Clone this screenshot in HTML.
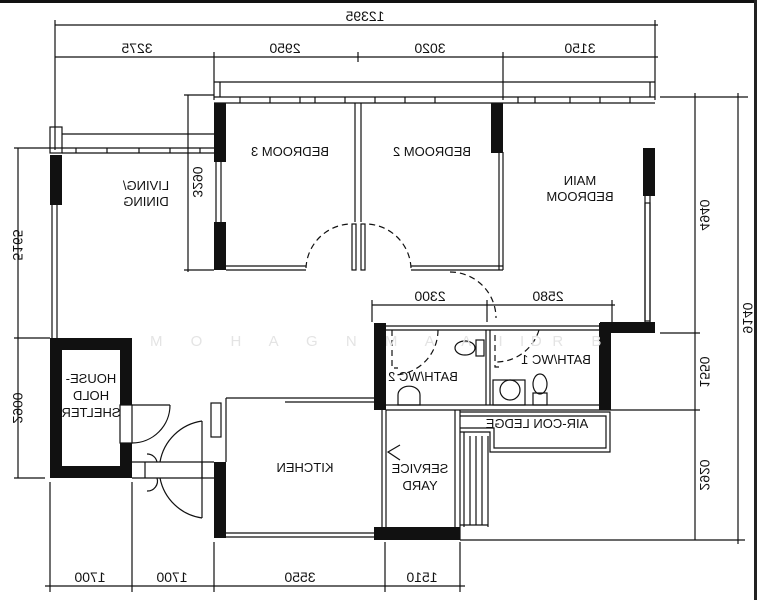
<!DOCTYPE html>
<html><head><meta charset="utf-8"><style>
html,body{margin:0;padding:0;background:#fff;}
svg{display:block;}
text{font-family:"Liberation Sans",sans-serif;fill:#111;}
</style></head><body>
<svg width="757" height="600" viewBox="0 0 757 600" xmlns="http://www.w3.org/2000/svg">
<rect x="0" y="0" width="757" height="3" fill="#111"/>
<rect x="754" y="0" width="3" height="600" fill="#222"/>
<g stroke="#111" stroke-width="1.2" fill="none">
<line x1="55" y1="25" x2="658" y2="25"/>
<line x1="55" y1="57" x2="658" y2="57"/>
<line x1="55" y1="20" x2="55" y2="150"/>
<line x1="214" y1="52" x2="214" y2="100"/>
<line x1="358" y1="52" x2="358" y2="62"/>
<line x1="503" y1="52" x2="503" y2="100"/>
<line x1="655" y1="20" x2="655" y2="100"/>
<line x1="214" y1="82" x2="655" y2="82"/>
<line x1="214" y1="97" x2="655" y2="97"/>
<line x1="214" y1="103" x2="655" y2="103"/>
<line x1="220" y1="82" x2="220" y2="97"/>
<line x1="650" y1="82" x2="650" y2="97"/>
<line x1="240" y1="97" x2="240" y2="103"/><line x1="270" y1="97" x2="270" y2="103"/><line x1="300" y1="97" x2="300" y2="103"/><line x1="315" y1="97" x2="315" y2="103"/><line x1="345" y1="97" x2="345" y2="103"/><line x1="375" y1="97" x2="375" y2="103"/><line x1="405" y1="97" x2="405" y2="103"/><line x1="435" y1="97" x2="435" y2="103"/><line x1="518" y1="97" x2="518" y2="103"/><line x1="535" y1="97" x2="535" y2="103"/><line x1="570" y1="97" x2="570" y2="103"/><line x1="600" y1="97" x2="600" y2="103"/><line x1="630" y1="97" x2="630" y2="103"/>
<rect x="50" y="127" width="12" height="26"/>
<line x1="62" y1="134" x2="214" y2="134"/>
<line x1="62" y1="148" x2="214" y2="148"/>
<line x1="62" y1="153" x2="214" y2="153"/>
<line x1="76" y1="148" x2="76" y2="153"/><line x1="107" y1="148" x2="107" y2="153"/><line x1="139" y1="148" x2="139" y2="153"/><line x1="170" y1="148" x2="170" y2="153"/><line x1="200" y1="148" x2="200" y2="153"/>
<line x1="52" y1="205" x2="52" y2="338"/><line x1="57" y1="205" x2="57" y2="338"/>
<line x1="18" y1="148" x2="18" y2="478"/>
<line x1="14" y1="148" x2="62" y2="148"/>
<line x1="14" y1="338" x2="50" y2="338"/>
<line x1="14" y1="478" x2="45" y2="478"/>
<line x1="188" y1="95" x2="188" y2="272"/>
<line x1="184" y1="95" x2="214" y2="95"/>
<line x1="184" y1="270" x2="214" y2="270"/>
<line x1="216" y1="162" x2="216" y2="222"/><line x1="221" y1="162" x2="221" y2="222"/>
<line x1="226" y1="266" x2="306" y2="266"/><line x1="226" y1="270" x2="306" y2="270"/>
<path d="M306 268 A46 46 0 0 1 350 224" stroke-dasharray="6 4"/>
<rect x="352" y="224" width="4" height="46"/>
<line x1="355" y1="103" x2="355" y2="222"/><line x1="361" y1="103" x2="361" y2="222"/>
<rect x="361" y="224" width="4" height="46"/>
<path d="M411 268 A46 46 0 0 0 367 224" stroke-dasharray="6 4"/>
<line x1="411" y1="266" x2="503" y2="266"/><line x1="411" y1="270" x2="503" y2="270"/>
<line x1="499" y1="152" x2="499" y2="270"/><line x1="503" y1="152" x2="503" y2="270"/>
<path d="M450 272 A46 46 0 0 1 496 318" stroke-dasharray="6 4"/>
<line x1="645" y1="196" x2="645" y2="322"/><line x1="650" y1="196" x2="650" y2="322"/>
<rect x="645" y="203" width="5" height="118"/>
<line x1="660" y1="97" x2="748" y2="97"/>
<line x1="695" y1="93" x2="695" y2="540"/>
<line x1="738" y1="93" x2="738" y2="544"/>
<line x1="660" y1="333" x2="700" y2="333"/>
<line x1="612" y1="410" x2="700" y2="410"/>
<line x1="460" y1="540" x2="745" y2="540"/>
<line x1="372" y1="305" x2="615" y2="305"/>
<line x1="372" y1="300" x2="372" y2="322"/><line x1="487" y1="300" x2="487" y2="322"/><line x1="612" y1="300" x2="612" y2="322"/>
<line x1="386" y1="326" x2="599" y2="326"/><line x1="386" y1="330" x2="599" y2="330"/>
<line x1="486" y1="330" x2="486" y2="405"/><line x1="490" y1="330" x2="490" y2="405"/>
<line x1="386" y1="405" x2="599" y2="405"/><line x1="386" y1="410" x2="612" y2="410"/>
<path d="M438 330 A45 45 0 0 1 393 375" stroke-dasharray="6 4"/>
<path d="M392 330 V368 H398" stroke-dasharray="6 4"/>
<path d="M539 330 A45 45 0 0 1 497 362" stroke-dasharray="6 4"/>
<path d="M495 335 V367 H502" stroke-dasharray="6 4"/>
<ellipse cx="465" cy="348" rx="10" ry="7"/><rect x="476" y="340" width="8" height="16"/>
<ellipse cx="540" cy="384" rx="7" ry="10"/><rect x="533" y="393" width="14" height="12"/>
<circle cx="510" cy="390" r="10"/><rect x="493" y="380" width="32" height="25"/>
<path d="M398 395 a10 8 0 0 1 22 0 v10 h-22 z"/>
<path d="M460 412 H610 V452 H490 V432 H460"/>
<path d="M460 416 H606 V448 H494 V428 H460"/>
<line x1="464" y1="432" x2="464" y2="527"/><line x1="470" y1="436" x2="470" y2="525"/><line x1="476" y1="436" x2="476" y2="525"/><line x1="482" y1="436" x2="482" y2="525"/><line x1="488" y1="436" x2="488" y2="527"/>
<line x1="460" y1="525" x2="488" y2="525"/>
<line x1="382" y1="410" x2="382" y2="527"/><line x1="386" y1="410" x2="386" y2="527"/>
<line x1="455" y1="410" x2="455" y2="527"/><line x1="460" y1="410" x2="460" y2="540"/>
<path d="M400 445 L388 452 L400 460"/>
<line x1="226" y1="398" x2="385" y2="398"/><line x1="285" y1="402" x2="385" y2="402"/>
<line x1="226" y1="398" x2="226" y2="462"/>
<line x1="226" y1="533" x2="385" y2="533"/><line x1="226" y1="537" x2="385" y2="537"/>
<rect x="211" y="403" width="10" height="34"/>
<line x1="132" y1="405" x2="170" y2="405"/>
<path d="M132 443 A38 38 0 0 0 170 405"/>
<rect x="120" y="405" width="12" height="38"/>
<line x1="132" y1="462" x2="214" y2="462"/><line x1="132" y1="478" x2="214" y2="478"/>
<line x1="145" y1="462" x2="145" y2="478"/><line x1="202" y1="462" x2="202" y2="478"/>
<line x1="202" y1="421" x2="202" y2="518"/>
<path d="M202 421 A50 50 0 0 0 160 462"/><path d="M202 518 A50 50 0 0 1 160 478"/>
<path d="M147 454 A10 10 0 0 1 157 462"/><path d="M147 491 A10 10 0 0 0 157 478"/>
<line x1="45" y1="586" x2="465" y2="586"/>
<line x1="50" y1="482" x2="50" y2="592"/><line x1="132" y1="482" x2="132" y2="592"/><line x1="214" y1="542" x2="214" y2="592"/><line x1="385" y1="542" x2="385" y2="592"/><line x1="460" y1="542" x2="460" y2="592"/>
</g>
<g fill="#111">
<rect x="214" y="103" width="12" height="59"/>
<rect x="214" y="222" width="12" height="48"/>
<rect x="491" y="103" width="12" height="50"/>
<rect x="643" y="148" width="12" height="48"/>
<rect x="50" y="155" width="12" height="50"/>
<rect x="600" y="322" width="55" height="11"/>
<rect x="374" y="323" width="12" height="87"/>
<rect x="599" y="323" width="12" height="87"/>
<rect x="374" y="527" width="86" height="13"/>
<rect x="214" y="462" width="12" height="76"/>
<path d="M50 338 H132 V405 H120 V350 H62 V466 H120 V443 H132 V478 H50 Z"/>
</g>
<g font-size="14">
<g transform="scale(-1,1)" text-anchor="middle">
<text x="-365" y="21">12395</text>
<text x="-137" y="53">3275</text>
<text x="-285" y="53">2950</text>
<text x="-430" y="53">3020</text>
<text x="-580" y="53">3150</text>
<text x="-90" y="582">1700</text>
<text x="-172" y="582">1700</text>
<text x="-300" y="582">3550</text>
<text x="-422" y="582">1510</text>
<text x="-430" y="301">2300</text>
<text x="-548" y="301">2580</text>
</g>
<g font-size="13" transform="scale(-1,1)" text-anchor="middle">
<text x="-290" y="156">BEDROOM 3</text>
<text x="-432" y="156">BEDROOM 2</text>
<text x="-580" y="185">MAIN</text>
<text x="-580" y="201">BEDROOM</text>
<text x="-146" y="190">LIVING/</text>
<text x="-146" y="206">DINING</text>
<text x="-91" y="383">HOUSE-</text>
<text x="-91" y="400">HOLD</text>
<text x="-91" y="417">SHELTER</text>
<text x="-305" y="472">KITCHEN</text>
<text x="-420" y="473">SERVICE</text>
<text x="-420" y="490">YARD</text>
<text x="-423" y="381">BATH/WC 2</text>
<text x="-556" y="364">BATH/WC 1</text>
<text x="-537" y="428">AIR-CON LEDGE</text>
</g>
<text transform="translate(13,245) rotate(90) scale(-1,1)" text-anchor="middle">5165</text>
<text transform="translate(13,408) rotate(90) scale(-1,1)" text-anchor="middle">2900</text>
<text transform="translate(193,182) rotate(90) scale(-1,1)" text-anchor="middle">3290</text>
<text transform="translate(700,215) rotate(90) scale(-1,1)" text-anchor="middle">4940</text>
<text transform="translate(700,372) rotate(90) scale(-1,1)" text-anchor="middle">1550</text>
<text transform="translate(700,475) rotate(90) scale(-1,1)" text-anchor="middle">2920</text>
<text transform="translate(743,318) rotate(90) scale(-1,1)" text-anchor="middle">9140</text>
</g>
<text x="150" y="346" font-size="15" style="fill:#e4e4e4" letter-spacing="12">M O H A G N M A A I D</text>
<text x="520" y="346" font-size="15" style="fill:#e4e4e4" letter-spacing="12">I R B</text>
</svg>
</body></html>
